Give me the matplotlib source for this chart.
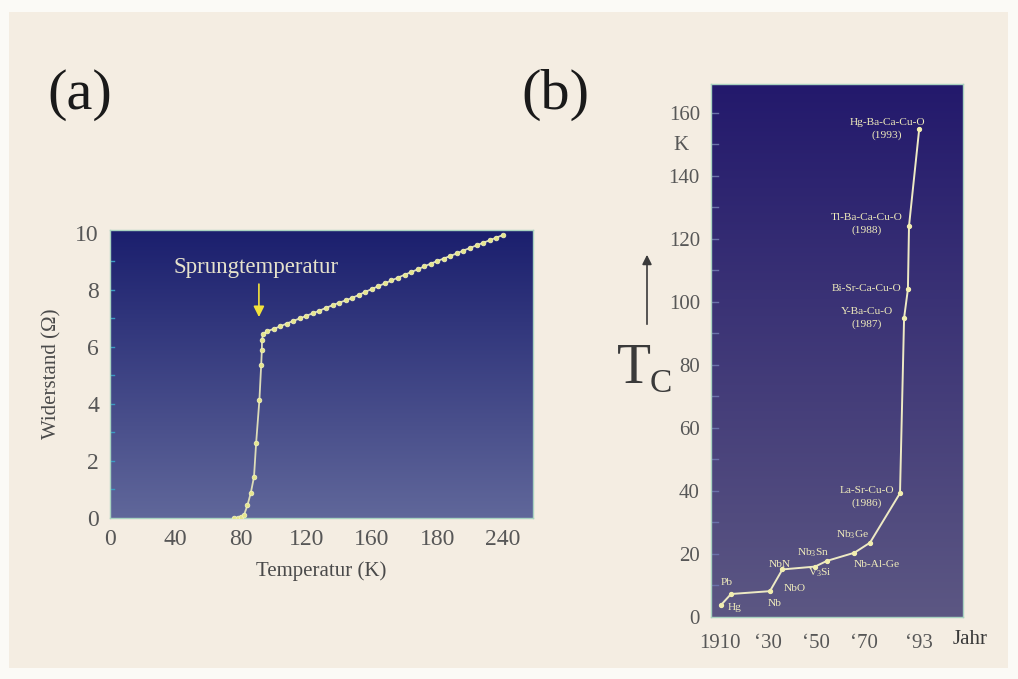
import numpy as np
import matplotlib
matplotlib.use("Agg")
import matplotlib.pyplot as plt
from matplotlib.colors import LinearSegmentedColormap

plt.rcParams['font.family'] = ['Liberation Serif', 'DejaVu Serif']
plt.rcParams['mathtext.fontset'] = 'custom'
plt.rcParams['mathtext.rm'] = 'Liberation Serif'
plt.rcParams['mathtext.it'] = 'Liberation Serif:italic'

# panel (a): resistance vs temperature
temp_low = [76, 78, 80, 82, 84, 86, 88, 89.3, 91.3, 92.4, 92.8, 92.9, 93.5]
res_low = [0.0, 0.0, 0.03, 0.12, 0.45, 0.87, 1.44, 2.63, 4.14, 5.37, 5.9, 6.25, 6.45]
temp_high = [96, 100, 104, 108, 112, 116, 120, 124, 128, 132, 136, 140, 144, 148,
             152, 156, 160, 164, 168, 172, 176, 180, 184, 188, 192, 196, 200, 204,
             208, 212, 216, 220, 224, 228, 232, 236, 240]
res_high = [6.55, 6.63, 6.72, 6.82, 6.91, 7.00, 7.09, 7.18, 7.27, 7.37, 7.46, 7.55,
            7.63, 7.72, 7.82, 7.93, 8.03, 8.13, 8.23, 8.33, 8.43, 8.53, 8.62, 8.72,
            8.82, 8.92, 9.01, 9.10, 9.19, 9.28, 9.38, 9.47, 9.56, 9.65, 9.74, 9.83, 9.92]
temp_ticks = [0, 40, 80, 120, 160, 200, 240]
temp_ticklabels = ['0', '40', '80', '120', '160', '180', '240']

# panel (b): Tc by year
years = [1910.4, 1914.6, 1930.8, 1936, 1949.6, 1954.5, 1966, 1972.5, 1985, 1986.7, 1988.3, 1988.75, 1993]
tc = [3.8, 7.3, 8.2, 15.1, 16.0, 17.8, 20.4, 23.6, 39.3, 94.9, 104.1, 124.1, 154.9]
mat_labels = ['Hg-Ba-Ca-Cu-O\n(1993)', 'Tl-Ba-Ca-Cu-O\n(1988)', 'Bi-Sr-Ca-Cu-O',
              'Y-Ba-Cu-O\n(1987)', 'La-Sr-Cu-O\n(1986)', 'Nb$_3$Ge', 'Nb$_3$Sn', 'NbN',
              'Nb-Al-Ge', 'V$_3$Si', 'NbO', 'Nb', 'Pb', 'Hg']
mat_x = [1979.6, 1971.25, 1971.25, 1971.25, 1971.25, 1965.4, 1948.75, 1935,
         1975.5, 1951.7, 1941.25, 1932.9, 1912.9, 1916.25]
mat_y = [155.0, 124.9, 104.4, 94.9, 38.1, 26, 20.3, 16.8, 16.8, 14, 9.2, 4.4, 11.1, 2.9]
year_ticks = [1910, 1930, 1950, 1970, 1993]
year_ticklabels = ['1910', '\u201830', '\u201850', '\u201870', '\u201893']

bg = '#f4ede2'
tick_col = '#575757'
W, H = 1018, 679

fig = plt.figure(figsize=(W / 100, H / 100), dpi=100, facecolor='#fbfaf6')
fig.patches.append(matplotlib.patches.Rectangle(
    (9 / W, 1 - 668 / H), 999 / W, 656 / H, transform=fig.transFigure,
    facecolor=bg, edgecolor='none', zorder=-10))


def grad_bg(ax, top, bottom):
    cmap = LinearSegmentedColormap.from_list('g', [bottom, top])
    grad = np.linspace(0, 1, 256).reshape(-1, 1)
    ax.imshow(grad, cmap=cmap, aspect='auto', extent=[0, 1, 0, 1],
              transform=ax.transAxes, origin='lower', zorder=0)


def style_axes(ax):
    for s in ax.spines.values():
        s.set_color('#a9d2c0')
        s.set_linewidth(1.0)
    ax.tick_params(colors=tick_col, length=0)


# ---- panel (a)
ax1 = fig.add_axes([110 / W, 1 - 518 / H, 423 / W, 288 / H])
grad_bg(ax1, '#1b1f6e', '#60679a')
ax1.plot(temp_low + temp_high, res_low + res_high, color='#dcdcb8', lw=1.3, zorder=2)
ax1.plot(temp_low + temp_high, res_low + res_high, 'o', color='#e6e68e', ms=3.4,
         mec='#f4f4c0', mew=0.5, zorder=3)
ax1.set_xlim(0, 258.5)
ax1.set_ylim(0, 10.1)
ax1.set_xticks(temp_ticks)
ax1.set_xticklabels(temp_ticklabels)
ax1.set_yticks(range(0, 11, 2))
ax1.tick_params(labelsize=17, pad=8)
style_axes(ax1)
for v in range(1, 10):
    ax1.plot([0, 2.5], [v, v], color='#3a9ac0', lw=1, zorder=1)
ax1.set_xlabel('Temperatur (K)', fontsize=15, color='#4a4a4a', labelpad=8)
ax1.set_ylabel('Widerstand (\u03a9)', fontsize=15, color='#4a4a4a', labelpad=10)
ax1.text(89, 8.8, 'Sprungtemperatur', fontsize=16.5, color='#e6e2cc',
         ha='center', va='center', zorder=4)
ax1.annotate('', xy=(91, 6.95), xytext=(91, 8.3),
             arrowprops=dict(arrowstyle='-|>', color='#f2e23c', lw=1.2,
                             mutation_scale=16), zorder=4)

# ---- panel (b)
ax2 = fig.add_axes([711 / W, 1 - 617 / H, 252 / W, 533 / H])
grad_bg(ax2, '#23196c', '#5c5783')
ax2.plot(years, tc, color='#eeeac4', lw=1.4, zorder=2)
ax2.plot(years, tc, 'o', color='#f2eeb0', ms=2.8, zorder=3)
ax2.set_xlim(1906.25, 2011.25)
ax2.set_ylim(0, 169.2)
ax2.set_xticks(year_ticks)
ax2.set_xticklabels(year_ticklabels)
ax2.set_yticks(range(0, 161, 20))
ax2.tick_params(labelsize=15)
ax2.tick_params(axis='x', pad=12)
ax2.tick_params(axis='y', pad=8)
style_axes(ax2)
for v in range(10, 170, 10):
    ax2.plot([1906.25, 1909], [v, v], color='#6a70a8', lw=1, zorder=1)
for lab, x, y in zip(mat_labels, mat_x, mat_y):
    ax2.text(x, y, lab, fontsize=8.2, color='#f0ecbc', ha='center', va='center',
             linespacing=1.45, zorder=4)

# figure-level text
fig.text(80 / W, 1 - 95 / H, '(a)', fontsize=42, color='#1a1a1a', ha='center', va='center')
fig.text(555 / W, 1 - 95 / H, '(b)', fontsize=42, color='#1a1a1a', ha='center', va='center')
fig.text(634 / W, 1 - 369 / H, 'T', fontsize=40, color='#3a3a3a', ha='center', va='center')
fig.text(661 / W, 1 - 384 / H, 'C', fontsize=24, color='#3a3a3a', ha='center', va='center')
fig.text(681 / W, 1 - 145 / H, 'K', fontsize=15, color=tick_col, ha='center', va='center')
fig.text(970 / W, 1 - 640 / H, 'Jahr', fontsize=15, color='#3a3a3a', ha='center', va='center')
fig.patches.append(matplotlib.patches.FancyArrowPatch(
    (647 / W, 1 - 327 / H), (647 / W, 1 - 252 / H), transform=fig.transFigure,
    arrowstyle='-|>', mutation_scale=14, color='#3a3a3a', lw=1.2))

fig.savefig('out.png', dpi=100, facecolor=fig.get_facecolor())
